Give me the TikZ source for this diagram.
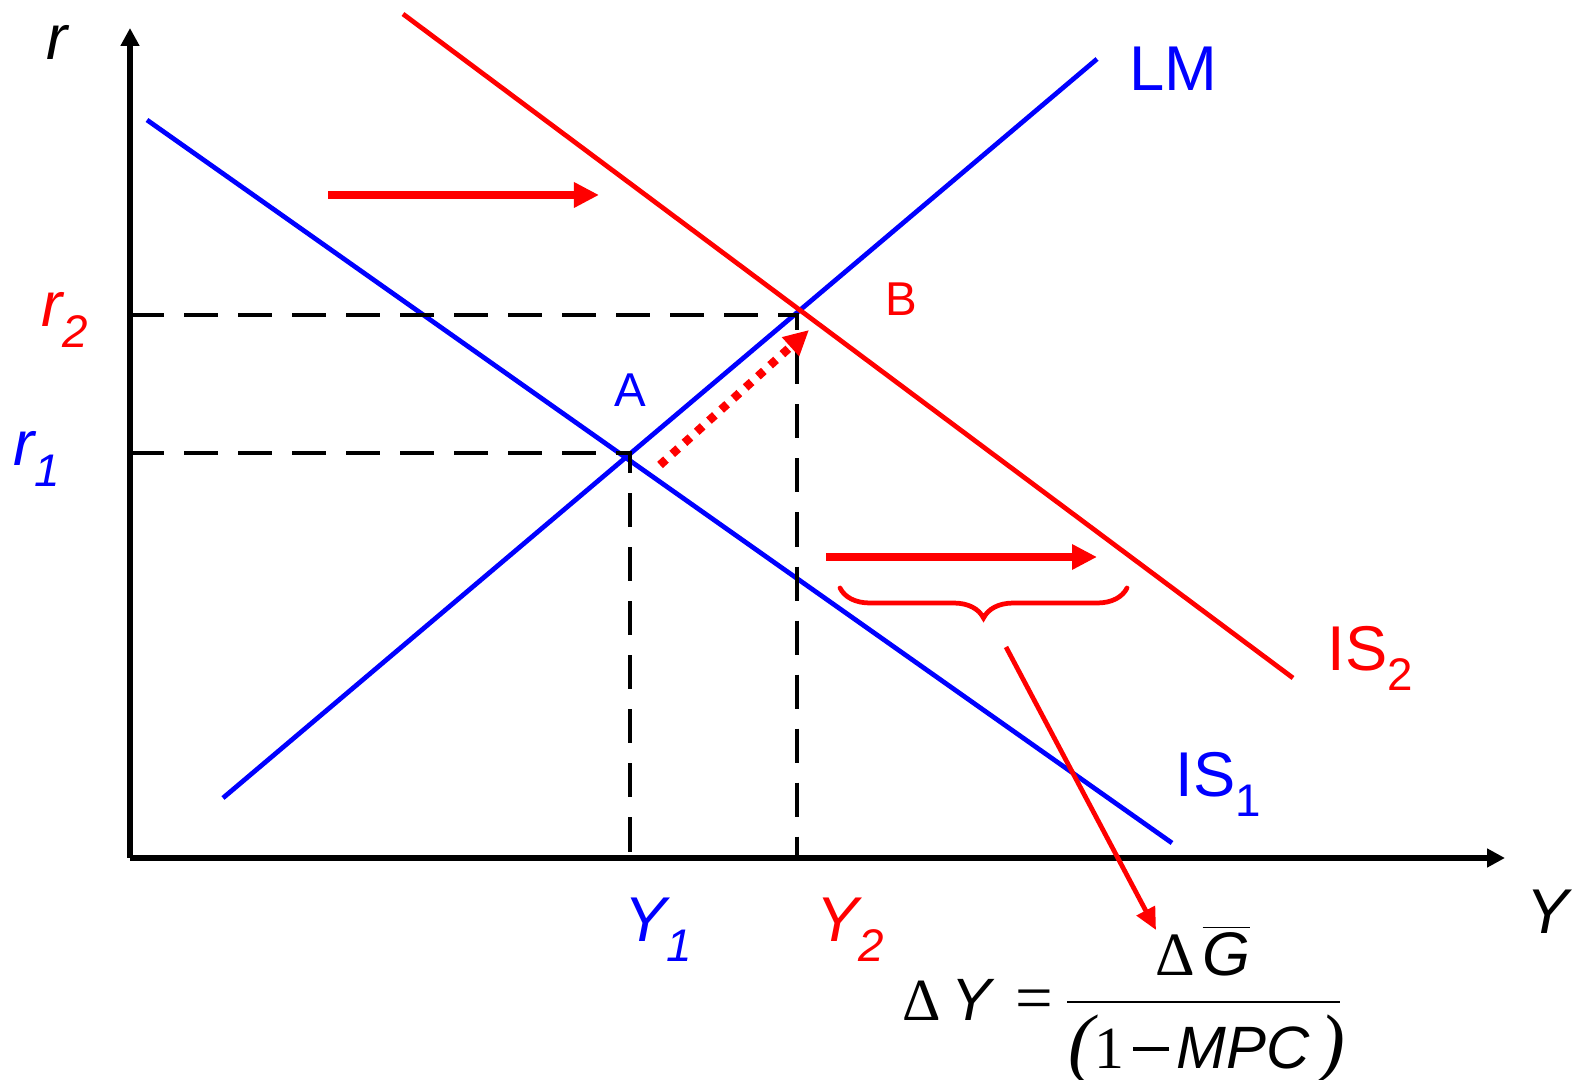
\documentclass[tikz,border=0pt]{standalone}
\usepackage{fontspec}
\setmainfont{Liberation Sans}
\newfontfamily\serifsym{Liberation Serif}
\usepackage{tikz}
\usetikzlibrary{arrows.meta,decorations.pathreplacing}

\newcommand{\lowsub}[1]{\raisebox{-0.6ex}{\fontsize{13}{13}\selectfont #1}}

\begin{document}
\begin{tikzpicture}[x=0.01cm, y=-0.01cm,
    axis/.style={line width=1.6pt, -{Triangle[length=0.18cm,width=0.18cm]}},
    curve/.style={line width=1.35pt},
    guide/.style={line width=1.35pt, dash pattern=on 0.34cm off 0.2cm},
    shiftarrow/.style={red, line width=2.2pt, -{Triangle[length=0.25cm,width=0.24cm]}},
    lbl/.style={inner sep=0pt, font=\fontsize{18}{18}\selectfont},
    ptlbl/.style={inner sep=0pt, font=\fontsize{13.5}{13.5}\selectfont}
]
    \useasboundingbox (0,0) rectangle (1573,1080);

    % Axes
    \coordinate (origin) at (130,858);
    \coordinate (rtop) at (130,28);
    \coordinate (yend) at (1505,858);
    \draw[axis] (origin) -- (rtop);
    \draw[axis] (origin) -- (yend);
    \node[lbl] (rlabel) at (57,42) {\itshape r};
    \node[lbl] (ylabel) at (1548,912) {\itshape Y};

    % Curves
    \coordinate (is1a) at (147,120);
    \coordinate (is1b) at (1172,843);
    \coordinate (lma) at (223,798);
    \coordinate (lmb) at (1097,59);
    \coordinate (is2a) at (403,14);
    \coordinate (is2b) at (1293,678);
    \draw[curve, blue] (is1a) -- (is1b);
    \draw[curve, blue] (lma) -- (lmb);
    \draw[curve, red] (is2a) -- (is2b);
    \node[lbl, blue] (lm) at (1173,69) {LM};
    \node[lbl, blue] (is1) at (1218,784) {IS\lowsub{1}};
    \node[lbl, red] (is2) at (1370,658) {IS\lowsub{2}};

    % Equilibria
    \coordinate (ptA) at (630,453);
    \coordinate (ptB) at (797,315);
    \coordinate (r1axis) at (130,453);
    \coordinate (r2axis) at (130,315);
    \coordinate (y1axis) at (630,858);
    \coordinate (y2axis) at (797,858);
    \draw[guide] (r1axis) -- (ptA) -- (y1axis);
    \draw[guide] (r2axis) -- (ptB) -- (y2axis);
    \node[ptlbl, blue] (labA) at (630,390) {A};
    \node[ptlbl, red] (labB) at (901,299) {B};
    \node[lbl, red] (r2) at (65,320) {\itshape r\lowsub{\itshape 2}};
    \node[lbl, blue] (r1) at (37,459) {\itshape r\lowsub{\itshape 1}};
    \node[lbl, blue] (y1) at (658,930) {\itshape Y\lowsub{\itshape 1}};
    \node[lbl, red] (y2) at (850,930) {\itshape Y\lowsub{\itshape 2}};

    % Shift of IS
    \coordinate (s1a) at (328,195);
    \coordinate (s1b) at (599,195);
    \coordinate (s2a) at (826,557);
    \coordinate (s2b) at (1097,557);
    \draw[shiftarrow] (s1a) -- (s1b);
    \draw[shiftarrow] (s2a) -- (s2b);
    \coordinate (dota) at (660,465);
    \coordinate (dotb) at (809,330);
    \draw[red, line width=2.4pt, dash pattern=on 0.08cm off 0.085cm,
        -{Triangle[length=0.25cm,width=0.24cm]}] (dota) -- (dotb);

    % Brace and multiplier
    \coordinate (bra) at (1127,588);
    \coordinate (brb) at (840,588);
    \draw[red, line width=1.35pt, line cap=round, decorate,
        decoration={brace, amplitude=0.3cm}] (bra) -- (brb);
    \coordinate (pointer) at (1006,647);
    \node[inner sep=0pt] (num) at (1203,955)
        {\fontsize{17.5}{17.5}\selectfont{\serifsym\char"0394}\hspace{0.12em}\itshape\raisebox{0pt}[0pt][0pt]{$\overline{\mbox{\fontsize{17.5}{17.5}\selectfont\itshape G}}$}};
    \draw[red, line width=1.35pt, -{Triangle[length=0.22cm,width=0.2cm]}] (pointer) -- (1156,930);
    \node[inner sep=0pt] (lhs) at (978,1000)
        {\fontsize{17}{17}\selectfont{\serifsym\char"0394}\,\textit{Y}\hspace{0.35em}{\serifsym\fontsize{19}{19}\selectfont =}};
    \coordinate (bara) at (1067,1002);
    \coordinate (barb) at (1340,1002);
    \draw[line width=0.5pt] (bara) -- (barb);
    \node[inner sep=0pt, anchor=base] (den) at (1207,1068)
        {\fontsize{17}{17}\selectfont{\serifsym\fontsize{22}{22}\selectfont\itshape(}{\serifsym 1}\hspace{0.15em}\rule[0.28em]{0.6em}{0.07em}\hspace{0.12em}\textit{MPC}\,{\serifsym\fontsize{22}{22}\selectfont\itshape)}};
\end{tikzpicture}
\end{document}
